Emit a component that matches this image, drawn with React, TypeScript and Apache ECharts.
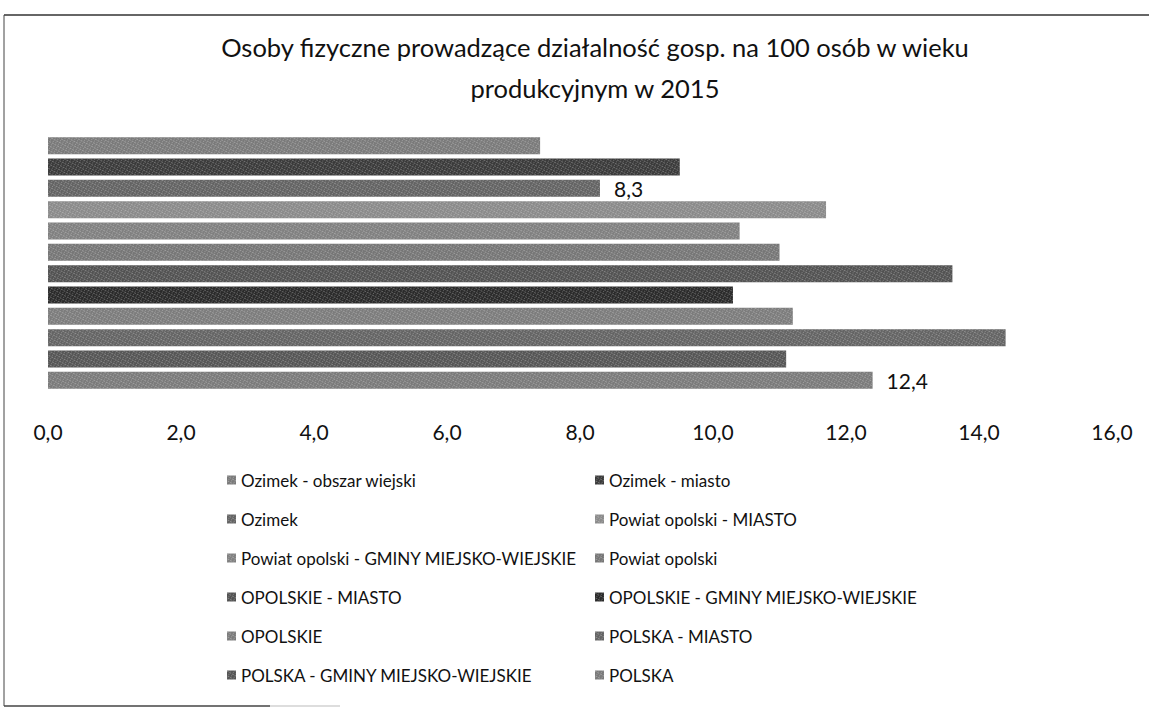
import React, { useEffect, useRef } from "react";
import * as echarts from "echarts";

const titleText = "Osoby fizyczne prowadzące działalność gosp. na 100 osób w wieku\nprodukcyjnym w 2015";

const seriesNames = [
  "Ozimek - obszar wiejski",
  "Ozimek - miasto",
  "Ozimek",
  "Powiat opolski - MIASTO",
  "Powiat opolski - GMINY MIEJSKO-WIEJSKIE",
  "Powiat opolski",
  "OPOLSKIE - MIASTO",
  "OPOLSKIE - GMINY MIEJSKO-WIEJSKIE",
  "OPOLSKIE",
  "POLSKA - MIASTO",
  "POLSKA - GMINY MIEJSKO-WIEJSKIE",
  "POLSKA",
];

const values = [7.4, 9.5, 8.3, 11.7, 10.4, 11.0, 13.6, 10.3, 11.2, 14.4, 11.1, 12.4];

const labelled = ["Ozimek", "POLSKA"];

const colors = [
  "#7a7a7a", "#3a3a3a", "#636363", "#8a8a8a", "#808080", "#767676",
  "#525252", "#2a2a2a", "#7c7c7c", "#646464", "#555555", "#7a7a7a",
];

const xTicks = { min: 0, max: 16, interval: 2 };

const fmt = (v: number) => v.toFixed(1).replace(".", ",");

export default function App() {
  const ref = useRef<HTMLDivElement>(null);
  useEffect(() => {
    document.body.style.margin = "0";
    const chart = echarts.init(ref.current!, undefined, { renderer: "svg" });
    const font = "Lato, 'Open Sans', sans-serif";
    const series = seriesNames.map((name, i) => ({
      type: "bar",
      name,
      data: seriesNames.map((_, j) => (j === i ? values[i] : null)),
      barWidth: 17,
      barGap: "-100%",
      itemStyle: {
        color: colors[i],
        decal: {
          symbol: "rect",
          symbolSize: 1,
          color: "rgba(255,255,255,0.28)",
          dashArrayX: [[1, 2], [2, 1]],
          dashArrayY: [1, 1],
          rotation: 0.5,
        },
      },
      label: {
        show: labelled.includes(name),
        position: "right",
        distance: 14,
        fontSize: 21,
        color: "#111",
        fontFamily: font,
        formatter: (p: any) => fmt(p.value),
      },
    }));
    const legendCommon = {
      orient: "vertical",
      itemWidth: 9,
      itemHeight: 9,
      itemGap: 21,
      icon: "rect",
      textStyle: { fontSize: 17, color: "#111", fontFamily: font, lineHeight: 18 },
    };
    chart.setOption({
      animation: false,
      title: {
        text: titleText,
        left: 590,
        textAlign: "center",
        top: 21,
        textStyle: { fontSize: 25.5, fontWeight: "normal", color: "#111", fontFamily: font, lineHeight: 41 },
      },
      graphic: [
        { type: "line", shape: { x1: 4, y1: 15, x2: 1149, y2: 15 }, style: { stroke: "#333", lineWidth: 1.5 }, silent: true },
        { type: "line", shape: { x1: 4, y1: 15, x2: 4, y2: 706 }, style: { stroke: "#444", lineWidth: 1 }, silent: true },
        { type: "line", shape: { x1: 4, y1: 706, x2: 270, y2: 706 }, style: { stroke: "#444", lineWidth: 1.5 }, silent: true },
        { type: "line", shape: { x1: 270, y1: 706, x2: 340, y2: 706 }, style: { stroke: "#bbb", lineWidth: 1 }, silent: true },
      ],
      legend: [
        { ...legendCommon, left: 222, top: 466, data: seriesNames.filter((_, i) => i % 2 === 0) },
        { ...legendCommon, left: 590, top: 466, data: seriesNames.filter((_, i) => i % 2 === 1) },
      ],
      grid: { left: 48, right: 37, top: 135, height: 256 },
      xAxis: {
        type: "value",
        min: xTicks.min,
        max: xTicks.max,
        interval: xTicks.interval,
        axisLine: { show: false },
        axisTick: { show: false },
        splitLine: { show: false },
        axisLabel: {
          fontSize: 21,
          color: "#111",
          fontFamily: font,
          margin: 30,
          formatter: (v: number) => fmt(v),
        },
      },
      yAxis: {
        type: "category",
        data: seriesNames,
        inverse: true,
        axisLine: { show: false },
        axisTick: { show: false },
        axisLabel: { show: false },
        splitLine: { show: false },
      },
      series,
    });
    return () => chart.dispose();
  }, []);
  return <div ref={ref} style={{ width: 1149, height: 709 }} />;
}
